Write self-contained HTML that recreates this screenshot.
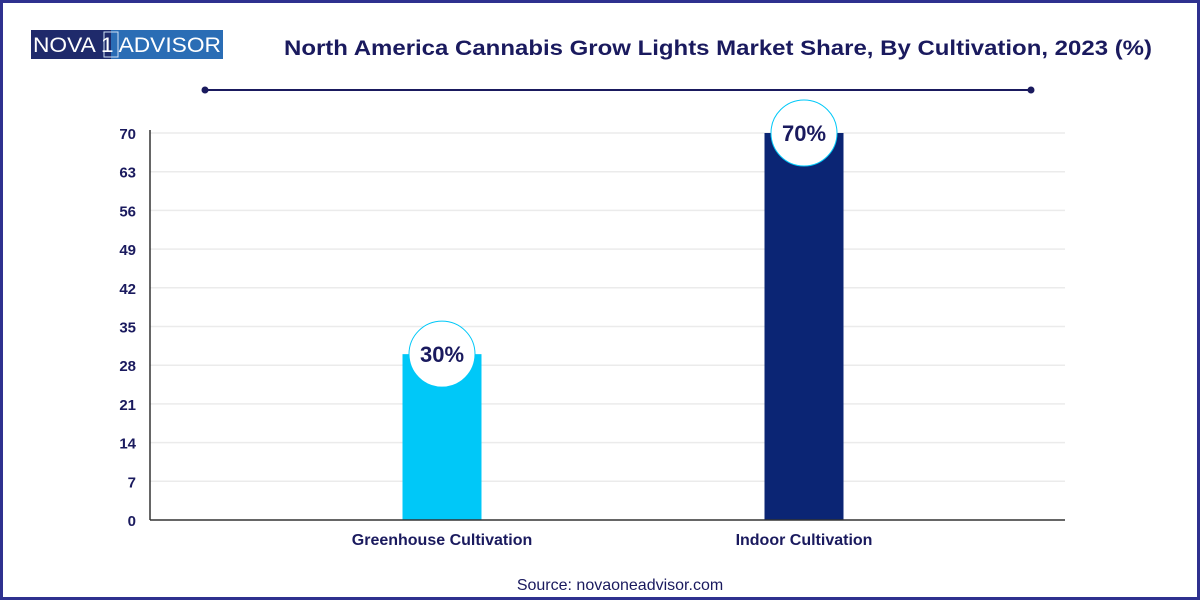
<!DOCTYPE html>
<html><head><meta charset="utf-8"><style>
html,body{margin:0;padding:0;}
body{width:1200px;height:600px;overflow:hidden;background:#fff;font-family:"Liberation Sans",sans-serif;}
#frame{position:absolute;left:0;top:0;width:1194px;height:594px;border:3px solid #2f318f;}
</style></head><body>
<div id="frame"></div>
<svg width="1200" height="600" style="position:absolute;left:0;top:0">
  <g>
    <rect x="31" y="30" width="80" height="29" fill="#1f2a6b"/>
    <rect x="111" y="30" width="112" height="29" fill="#2a6db5"/>
    <rect x="104" y="32" width="14" height="25" fill="none" stroke="#cfe0f5" stroke-width="1"/>
    <text x="127" y="52" font-size="21" fill="#fff" text-anchor="middle" textLength="188" lengthAdjust="spacingAndGlyphs">NOVA 1 ADVISOR</text>
  </g>
  <text x="718" y="55" font-size="21" font-weight="bold" fill="#1a1a5e" text-anchor="middle" textLength="868" lengthAdjust="spacingAndGlyphs">North America Cannabis Grow Lights Market Share, By Cultivation, 2023 (%)</text>
  <g>
    <line x1="205" y1="90" x2="1031" y2="90" stroke="#1a1a5e" stroke-width="2"/>
    <circle cx="205" cy="90" r="3.5" fill="#1a1a5e"/>
    <circle cx="1031" cy="90" r="3.5" fill="#1a1a5e"/>
  </g>
  <g id="grid"></g>
  <g id="bars"></g>
  <line x1="150" y1="130" x2="150" y2="520" stroke="#333" stroke-width="1.5"/>
  <line x1="150" y1="520" x2="1065" y2="520" stroke="#333" stroke-width="1.5"/>
  <text x="620" y="590" font-size="16" fill="#1a1a5e" text-anchor="middle">Source: novaoneadvisor.com</text>
</svg>
<script>
const categories = ["Greenhouse Cultivation", "Indoor Cultivation"];
const values = [30, 70];
const labels = ["30%", "70%"];
const ticks = [0, 7, 14, 21, 28, 35, 42, 49, 56, 63, 70];
const colors = ["#00c8f8", "#0b2574"];

const NS = "http://www.w3.org/2000/svg";
const y = v => 520 - v * (387 / 70);
const xc = i => 442 + i * 362;
function mk(tag, attrs, parent) {
  const e = document.createElementNS(NS, tag);
  for (const k in attrs) e.setAttribute(k, attrs[k]);
  parent.appendChild(e);
  return e;
}
const grid = document.getElementById("grid");
const bars = document.getElementById("bars");
ticks.forEach(t => {
  if (t > 0) {
    const l = mk("line", {x1: 150, x2: 1065, y1: y(t), y2: y(t), stroke: "#ebebeb", "stroke-width": 1.5}, grid);
    
    
  }
  const tx = mk("text", {x: 136, y: y(t) + 6, "font-size": 15, "font-weight": "bold", fill: "#1a1a5e", "text-anchor": "end"}, grid);
  tx.textContent = t;
  
  
});
categories.forEach((c, i) => {
  const b = mk("rect", {x: xc(i) - 39.5, y: y(values[i]), width: 79, height: 520 - y(values[i]), fill: colors[i]}, bars);
  
  
  const ci = mk("circle", {cx: xc(i), cy: y(values[i]), r: 33, fill: "#fff", stroke: "#00c8f8", "stroke-width": 1}, bars);
  
  
  const vt = mk("text", {x: xc(i), y: y(values[i]) + 8, "font-size": 22, "font-weight": "bold", fill: "#1a1a5e", "text-anchor": "middle"}, bars);
  vt.textContent = labels[i];
  
  
  const ct = mk("text", {x: xc(i), y: 545, "font-size": 16, "font-weight": "bold", fill: "#1a1a5e", "text-anchor": "middle"}, bars);
  ct.textContent = c;
  
  
});
</script>
</body></html>
